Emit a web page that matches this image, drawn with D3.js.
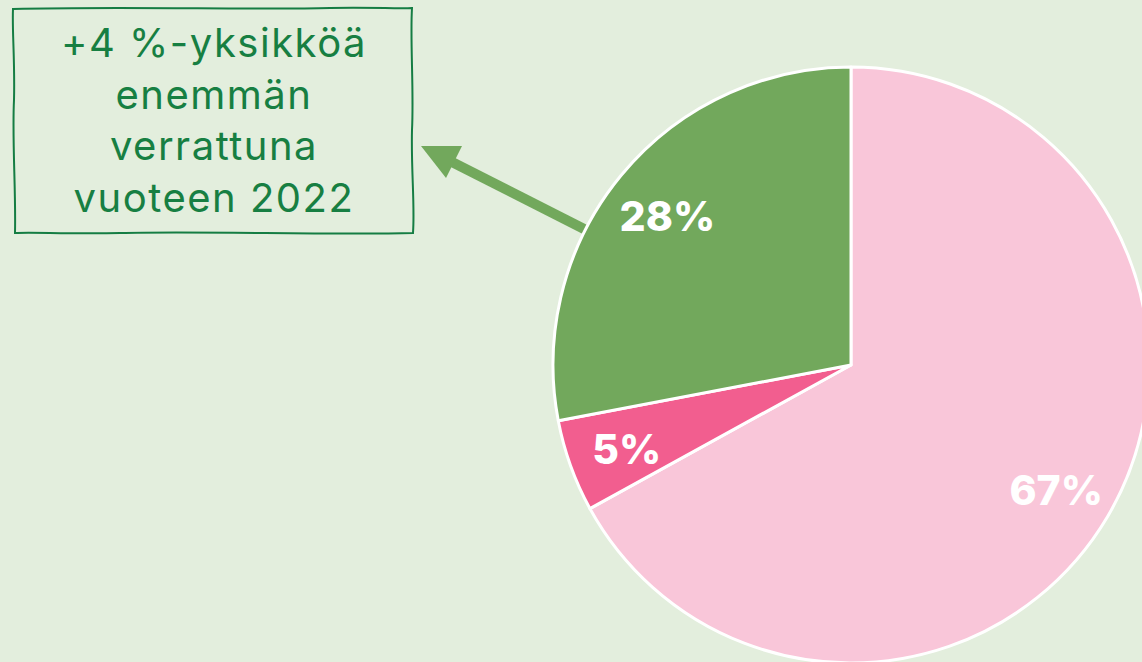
<!DOCTYPE html>
<html>
<head>
<meta charset="utf-8">
<script src="https://cdn.jsdelivr.net/npm/d3@7"></script>
<style>
  html, body { margin: 0; padding: 0; background: #e3eedd; }
  svg { display: block; }
</style>
</head>
<body>
<div id="chart"></div>
<script>
// pie slices, clockwise from 12 o'clock
const categories = ['a', 'b', 'c'];
const values = [67, 5, 28];
const labels = ['67%', '5%', '28%'];
const colors = ['#f9c6d9', '#f25e8f', '#72a85c'];

const noteLines = ['+4 %-yksikköä', 'enemmän', 'verrattuna', 'vuoteen 2022'];

const width = 1142, height = 662;
const cx = 851, cy = 365, radius = 298;

const svg = d3.select('#chart')
  .append('svg')
  .attr('width', width)
  .attr('height', height);

svg.append('rect')
  .attr('width', width)
  .attr('height', height)
  .attr('fill', '#e3eedd');

// arrow from the green slice to the note box
const arrowColor = '#72a85c';
svg.append('line')
  .attr('x1', 588).attr('y1', 231)
  .attr('x2', 448).attr('y2', 160)
  .attr('stroke', arrowColor)
  .attr('stroke-width', 10);
svg.append('path')
  .attr('d', 'M421,146 L462,146 L446,178 Z')
  .attr('fill', arrowColor);

const data = categories.map((c, i) => ({ cat: c, value: values[i], label: labels[i], color: colors[i] }));

const pie = d3.pie()
  .sort(null)
  .value(d => d.value);

const arc = d3.arc()
  .innerRadius(0)
  .outerRadius(radius);

const labelArc = d3.arc()
  .innerRadius(radius * 0.8)
  .outerRadius(radius * 0.8);

const g = svg.append('g')
  .attr('transform', `translate(${cx}, ${cy})`);

g.selectAll('path')
  .data(pie(data))
  .enter()
  .append('path')
  .attr('d', arc)
  .attr('fill', d => d.data.color)
  .attr('stroke', '#ffffff')
  .attr('stroke-width', 3)
  .attr('stroke-linejoin', 'round');

g.selectAll('text')
  .data(pie(data))
  .enter()
  .append('text')
  .attr('transform', d => `translate(${labelArc.centroid(d)})`)
  .attr('text-anchor', 'middle')
  .attr('dy', '0.45em')
  .attr('fill', '#ffffff')
  .style('font-family', 'Inter, "Noto Sans", sans-serif')
  .style('font-weight', 800)
  .style('font-size', '41px')
  .text(d => d.data.label);

// hand drawn note box
const boxColor = '#157d43';
svg.append('path')
  .attr('d', 'M13,9 C120,6 250,10 330,8 C370,7 400,9 412,8 ' +
             'C410,40 414,90 412,130 C411,170 415,205 413,233 ' +
             'C330,235 200,231 120,233 C70,234 30,232 15,233 ' +
             'C16,190 12,140 14,100 C15,60 12,30 13,9 Z')
  .attr('fill', 'none')
  .attr('stroke', boxColor)
  .attr('stroke-width', 2);

svg.append('g')
  .selectAll('text')
  .data(noteLines)
  .enter()
  .append('text')
  .attr('x', 214)
  .attr('y', (d, i) => 57 + i * 51.7)
  .attr('text-anchor', 'middle')
  .attr('fill', '#177f42')
  .style('font-family', 'Inter, "Noto Sans", sans-serif')
  .style('font-weight', 400)
  .style('font-size', '40px')
  .style('letter-spacing', '1.5px')
  .text(d => d);
</script>
</body>
</html>
